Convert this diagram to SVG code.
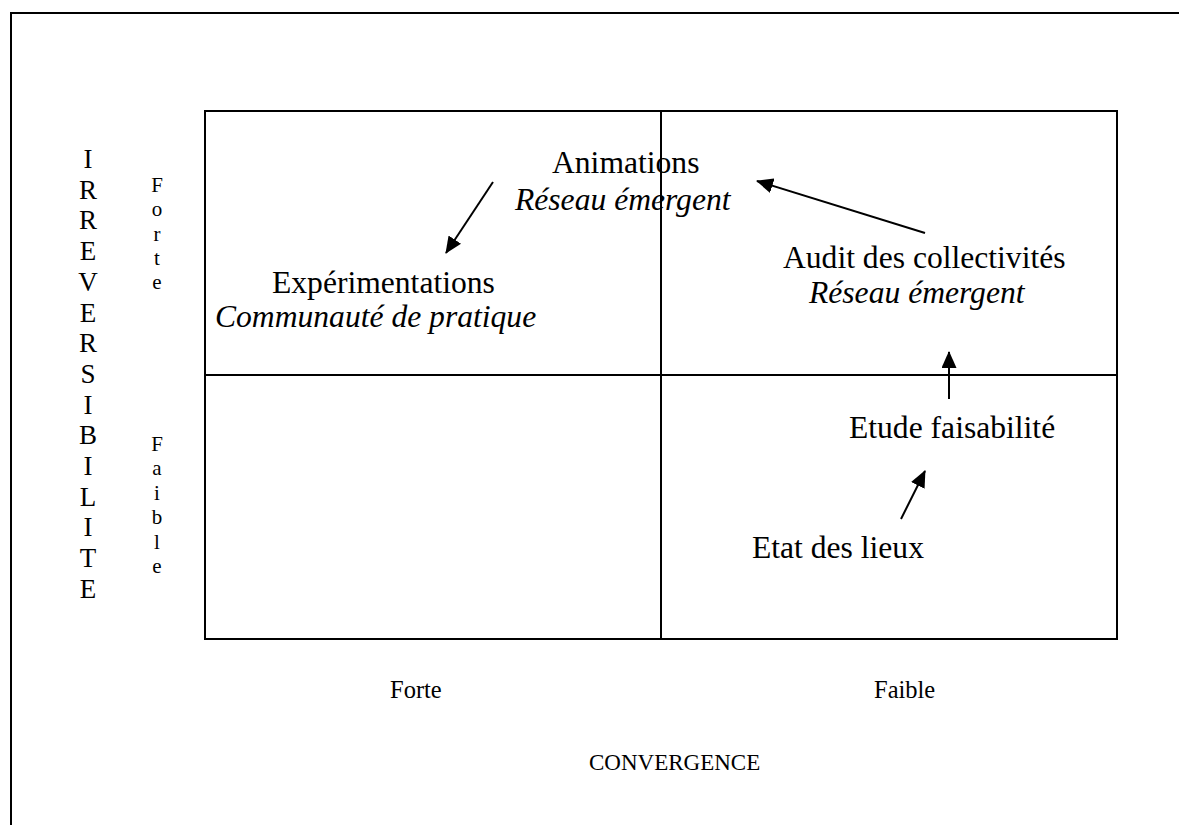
<svg xmlns="http://www.w3.org/2000/svg" width="1179" height="825" viewBox="0 0 1179 825">
<style>
.t{font-family:"Liberation Serif","Times New Roman",serif;fill:#000}
.big{font-size:31.6px}
.it{font-style:italic}
.ax{font-size:27px}
.sm{font-size:21px}
.lb{font-size:24.5px}
.cv{font-size:23px}
.ln{stroke:#000;stroke-width:2;fill:none}
.ar{stroke:#000;stroke-width:2;fill:none;marker-end:url(#ah)}
</style>
<defs>
<marker id="ah" markerUnits="userSpaceOnUse" markerWidth="17" markerHeight="15" viewBox="0 0 17 15" refX="16" refY="7.5" orient="auto">
<path d="M0,0 L17,7.5 L0,15 z" fill="#000"/>
</marker>
</defs>
<rect width="1179" height="825" fill="#fff"/>
<g id="frame">
<path class="ln" d="M11,825 V13 H1179"/>
</g>
<g id="grid">
<rect class="ln" x="205" y="111" width="912" height="528"/>
<line class="ln" x1="661" y1="111" x2="661" y2="639"/>
<line class="ln" x1="205" y1="375" x2="1117" y2="375"/>
</g>
<g id="yaxis" class="t ax" text-anchor="middle">
<text x="88" y="168">I</text>
<text x="88" y="198.7">R</text>
<text x="88" y="229.4">R</text>
<text x="88" y="260.1">E</text>
<text x="88" y="290.8">V</text>
<text x="88" y="321.5">E</text>
<text x="88" y="352.2">R</text>
<text x="88" y="382.9">S</text>
<text x="88" y="413.6">I</text>
<text x="88" y="444.3">B</text>
<text x="88" y="475">I</text>
<text x="88" y="505.7">L</text>
<text x="88" y="536.4">I</text>
<text x="88" y="567.1">T</text>
<text x="88" y="597.8">E</text>
</g>
<g id="y-forte" class="t sm" text-anchor="middle">
<text x="157" y="192">F</text>
<text x="157" y="216.3">o</text>
<text x="157" y="240.6">r</text>
<text x="157" y="264.9">t</text>
<text x="157" y="289.2">e</text>
</g>
<g id="y-faible" class="t sm" text-anchor="middle">
<text x="157" y="451">F</text>
<text x="157" y="475.4">a</text>
<text x="157" y="499.8">i</text>
<text x="157" y="524.2">b</text>
<text x="157" y="548.6">l</text>
<text x="157" y="573">e</text>
</g>
<g id="n-animations" class="t big">
<text x="552" y="173">Animations</text>
<text class="it" x="515" y="210">Réseau émergent</text>
</g>
<g id="n-experimentations" class="t big">
<text x="272" y="293">Expérimentations</text>
<text class="it" x="215" y="327">Communauté de pratique</text>
</g>
<g id="n-audit" class="t big">
<text x="783" y="268">Audit des collectivités</text>
<text class="it" x="809" y="303">Réseau émergent</text>
</g>
<g id="n-etude" class="t big">
<text x="849" y="438">Etude faisabilité</text>
</g>
<g id="n-etat" class="t big">
<text x="752" y="558">Etat des lieux</text>
</g>
<g id="xaxis" class="t">
<text class="lb" x="390" y="698">Forte</text>
<text class="lb" x="874" y="698">Faible</text>
<text class="cv" x="589" y="770">CONVERGENCE</text>
</g>
<g id="connectors">
<line class="ar" x1="493" y1="182" x2="446" y2="253"/>
<line class="ar" x1="925" y1="233" x2="757" y2="181"/>
<line class="ar" x1="949" y1="399" x2="949" y2="352"/>
<line class="ar" x1="901" y1="519" x2="925" y2="471"/>
</g>
</svg>
